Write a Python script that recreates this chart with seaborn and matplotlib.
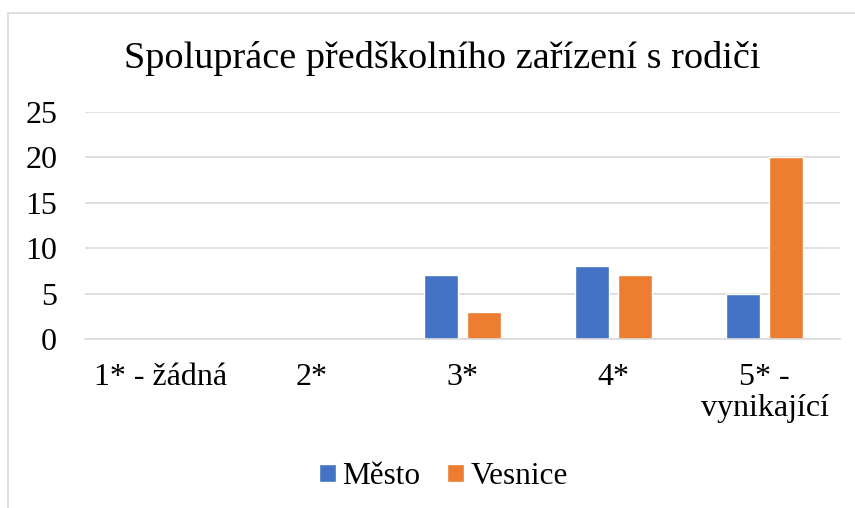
import pandas as pd
import matplotlib.pyplot as plt
import seaborn as sns
from matplotlib.lines import Line2D

# Chart data
categories = ["1* - žádná", "2*", "3*", "4*", "5* -\nvynikající"]
mesto = [0, 0, 7, 8, 5]
vesnice = [0, 0, 3, 7, 20]
series_names = ["Město", "Vesnice"]
y_ticks = [0, 5, 10, 15, 20, 25]

df = pd.DataFrame({
    "kategorie": categories * 2,
    "pocet": mesto + vesnice,
    "skupina": [series_names[0]] * len(categories) + [series_names[1]] * len(categories),
})

sns.set_style("white")
plt.rcParams['font.family'] = ['Liberation Serif', 'DejaVu Serif']
plt.rcParams['text.color'] = 'black'

fig = plt.figure(figsize=(8.55, 5.08), dpi=100)
ax = fig.add_axes([0.0994, 0.3327, 0.8831, 0.4468])

sns.barplot(data=df, x="kategorie", y="pocet", hue="skupina",
            palette=["#4472C4", "#ED7D31"], width=0.57, gap=0.21,
            saturation=1, ax=ax, legend=True)

ax.set_ylim(0, 25)
ax.set_xlim(-0.5, len(categories) - 0.5)
ax.set_yticks(y_ticks)
ax.yaxis.grid(True, color="#D9D9D9", linewidth=1.2)
ax.set_axisbelow(True)
for s in ["top", "right", "left"]:
    ax.spines[s].set_visible(False)
ax.spines["bottom"].set_color("#D9D9D9")
ax.spines["bottom"].set_linewidth(1.2)
ax.tick_params(axis="both", length=0, labelsize=23, labelcolor="black")
ax.tick_params(axis="y", pad=20)
ax.tick_params(axis="x", pad=17)
for lbl in ax.get_xticklabels():
    lbl.set_linespacing(1.1)
ax.set_xlabel("")
ax.set_ylabel("")

# Legend below the chart
handles, labels = ax.get_legend_handles_labels()
ax.legend_.remove()
fig.legend(handles, labels, loc="center", bbox_to_anchor=(0.519, 0.062),
           ncol=2, frameon=False, fontsize=22.5, handlelength=0.52,
           handleheight=0.52, handletextpad=0.22, columnspacing=0.86)

fig.text(0.517, 1 - 68 / 508, "Spolupráce předškolního zařízení s rodiči",
         ha="center", va="baseline", fontsize=27.5, color="black")

# Chart area border (top and left edges visible)
fig.add_artist(Line2D([8 / 855, 1.0], [1 - 13 / 508, 1 - 13 / 508],
                      transform=fig.transFigure, color="#D9D9D9", linewidth=1.2))
fig.add_artist(Line2D([8 / 855, 8 / 855], [0, 1 - 13 / 508],
                      transform=fig.transFigure, color="#D9D9D9", linewidth=1.2))

fig.savefig("out.png", dpi=100)
